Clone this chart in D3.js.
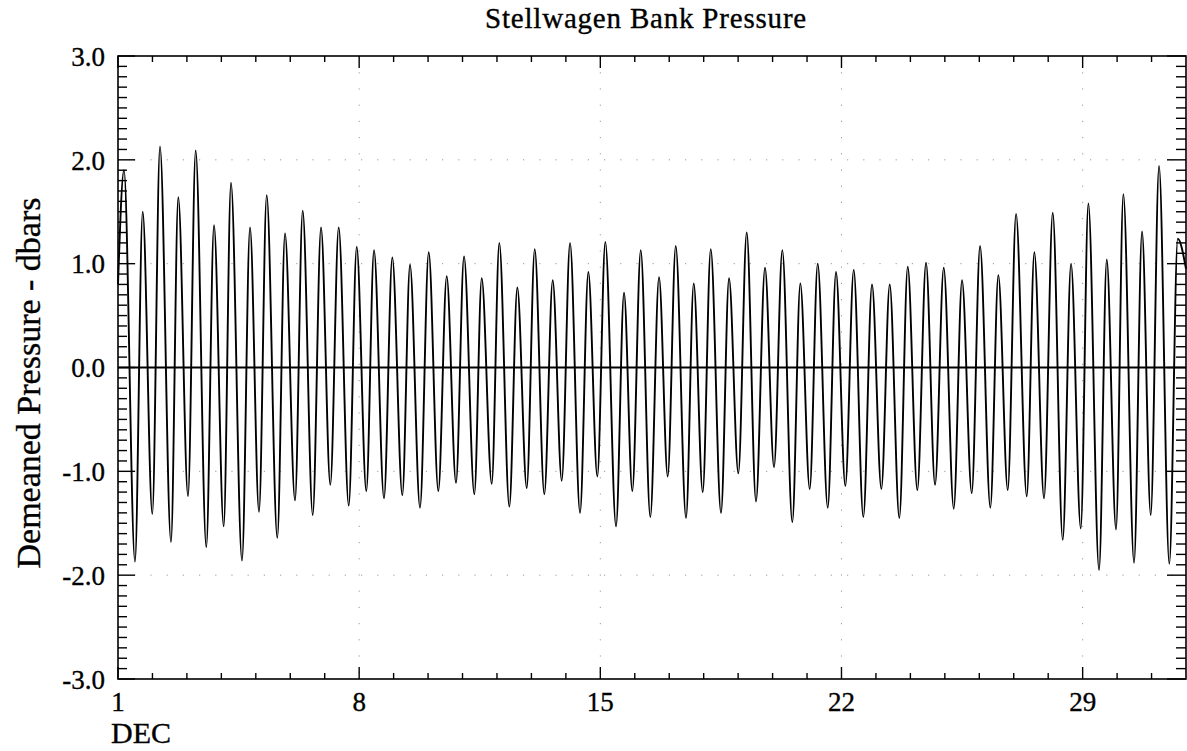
<!DOCTYPE html>
<html>
<head>
<meta charset="utf-8">
<script src="https://cdn.jsdelivr.net/npm/d3@7"></script>
<style>
  html, body { margin: 0; padding: 0; background: #fff; }
  #graph svg { display: block; }
  text { font-family: "Liberation Serif", "DejaVu Serif", serif; fill: #000; stroke: #000; stroke-width: 0.35; }
</style>
</head>
<body>
<div id="graph"></div>
<script>
// values (day of December, demeaned pressure in dbars)
const peakDays = [1.174, 1.717, 2.219, 2.750, 3.255, 3.787, 4.280, 4.832, 5.316, 5.848,
    6.361, 6.893, 7.406, 7.929, 8.431, 8.962, 9.476, 10.019, 10.541, 11.044,
    11.557, 12.068, 12.591, 13.096, 13.618, 14.121, 14.652, 15.145, 15.688, 16.173,
    16.704, 17.189, 17.711, 18.205, 18.736, 19.249, 19.780, 20.283, 20.805, 21.310,
    21.841, 22.355, 22.886, 23.400, 23.923, 24.454, 24.968, 25.499, 26.022, 26.553,
    27.067, 27.598, 28.132, 28.663, 29.166, 29.700, 30.182, 30.724, 31.218, 31.761];
const peakValues = [1.90, 1.50, 2.13, 1.64, 2.09, 1.37, 1.78, 1.35, 1.66, 1.29,
    1.51, 1.35, 1.35, 1.16, 1.13, 1.06, 0.99, 1.11, 0.88, 1.07,
    0.86, 1.20, 0.77, 1.14, 0.84, 1.20, 0.92, 1.21, 0.72, 1.13,
    0.87, 1.17, 0.81, 1.14, 0.86, 1.30, 0.96, 1.13, 0.81, 1.00,
    0.92, 0.94, 0.80, 0.80, 0.97, 1.01, 0.96, 0.84, 1.17, 0.89,
    1.48, 1.11, 1.49, 1.00, 1.58, 1.04, 1.67, 1.31, 1.94, 1.24];
const troughDays = [1.493, 1.996, 2.538, 3.032, 3.563, 4.068, 4.599, 5.093, 5.624, 6.138,
    6.652, 7.163, 7.697, 8.208, 8.721, 9.253, 9.766, 10.298, 10.811, 11.343,
    11.848, 12.359, 12.864, 13.375, 13.880, 14.411, 14.913, 15.456, 15.929, 16.451,
    16.956, 17.488, 17.972, 18.503, 19.006, 19.519, 20.042, 20.573, 21.078, 21.601,
    22.112, 22.634, 23.157, 23.679, 24.202, 24.716, 25.258, 25.781, 26.321, 26.826,
    27.377, 27.879, 28.422, 28.945, 29.476, 29.969, 30.492, 30.976, 31.516];
const troughValues = [-1.87, -1.41, -1.68, -1.24, -1.73, -1.53, -1.86, -1.39, -1.64, -1.28,
    -1.42, -1.13, -1.33, -1.19, -1.26, -1.23, -1.35, -1.19, -1.11, -1.22,
    -1.12, -1.34, -1.16, -1.22, -1.09, -1.40, -1.05, -1.53, -1.19, -1.44,
    -1.05, -1.45, -1.20, -1.40, -1.02, -1.29, -0.96, -1.49, -1.17, -1.35,
    -1.14, -1.44, -1.17, -1.45, -1.18, -1.13, -1.36, -1.21, -1.35, -1.18,
    -1.24, -1.26, -1.66, -1.55, -1.95, -1.56, -1.88, -1.42, -1.89];
const edgeDays = [1.0, 32.0];
const edgeValues = [0.80, 0.95];

const yTickValues = [3, 2, 1, 0, -1, -2, -3];
const yTickLabels = ["3.0", "2.0", "1.0", "0.0", "-1.0", "-2.0", "-3.0"];
const xTickDays = [1, 8, 15, 22, 29];
const xTickLabels = ["1", "8", "15", "22", "29"];
const gridValues = [2, 1, -1, -2];

const width = 1187, height = 751;
const plot = { left: 118, right: 1186, top: 56, bottom: 679 };

const createSVG = () => {
    return d3.select("#graph")
        .append("svg")
        .attr("width", width)
        .attr("height", height);
};

const createScales = () => {
    const xScale = d3.scaleLinear()
        .domain([1, 32])
        .range([plot.left, plot.right]);
    const yScale = d3.scaleLinear()
        .domain([-3, 3])
        .range([plot.bottom, plot.top]);
    return [xScale, yScale];
};

const getSeries = () => {
    const pts = [];
    peakDays.forEach((d, i) => pts.push({ day: d, value: peakValues[i] }));
    troughDays.forEach((d, i) => pts.push({ day: d, value: troughValues[i] }));
    edgeDays.forEach((d, i) => pts.push({ day: d, value: edgeValues[i] }));
    return pts.sort((a, b) => a.day - b.day);
};

const drawGrid = (svg, [xScale, yScale]) => {
    const grid = svg.append("g").attr("class", "grid")
        .attr("stroke", "#999")
        .attr("stroke-width", 1)
        .attr("stroke-dasharray", "1.2,15");
    grid.selectAll("line.h")
        .data(gridValues)
        .enter().append("line")
        .attr("class", "h")
        .attr("x1", plot.left).attr("x2", plot.right)
        .attr("y1", d => yScale(d)).attr("y2", d => yScale(d));
    grid.selectAll("line.v")
        .data(xTickDays.slice(1))
        .enter().append("line")
        .attr("class", "v")
        .attr("x1", d => xScale(d)).attr("x2", d => xScale(d))
        .attr("y1", plot.top).attr("y2", plot.bottom);
};

const isWhole = (d) => Math.abs(d - Math.round(d)) < 1e-6;

const drawAxes = (svg, [xScale, yScale]) => {
    const minorY = d3.range(-30, 31).map(d => d / 10);
    const minorX = d3.range(1, 32);

    // left and right: inward ticks every 0.1, longer at whole units
    svg.append("g").selectAll("line")
        .data(minorY)
        .enter().append("line")
        .attr("x1", plot.left)
        .attr("x2", d => plot.left + (isWhole(d) ? 17 : 9))
        .attr("y1", d => yScale(d)).attr("y2", d => yScale(d))
        .attr("stroke", "#000").attr("stroke-width", 1.4);

    svg.append("g").selectAll("line")
        .data(minorY)
        .enter().append("line")
        .attr("x1", plot.right)
        .attr("x2", d => plot.right - (isWhole(d) ? 19 : 10))
        .attr("y1", d => yScale(d)).attr("y2", d => yScale(d))
        .attr("stroke", "#000").attr("stroke-width", 1.4);

    // bottom and top: a tick per day, longer at labelled days
    svg.append("g").selectAll("line")
        .data(minorX)
        .enter().append("line")
        .attr("x1", d => xScale(d)).attr("x2", d => xScale(d))
        .attr("y1", plot.bottom)
        .attr("y2", d => plot.bottom - (xTickDays.includes(d) ? 12 : 6))
        .attr("stroke", "#000").attr("stroke-width", 1.4);

    svg.append("g").selectAll("line")
        .data(minorX)
        .enter().append("line")
        .attr("x1", d => xScale(d)).attr("x2", d => xScale(d))
        .attr("y1", plot.top)
        .attr("y2", d => plot.top + (xTickDays.includes(d) ? 12 : 6))
        .attr("stroke", "#000").attr("stroke-width", 1.4);

    // frame
    svg.append("rect")
        .attr("x", plot.left).attr("y", plot.top)
        .attr("width", plot.right - plot.left)
        .attr("height", plot.bottom - plot.top)
        .attr("fill", "none")
        .attr("stroke", "#000").attr("stroke-width", 1.6);

    // labels
    svg.append("g").selectAll("text")
        .data(yTickValues)
        .enter().append("text")
        .attr("x", 105)
        .attr("y", d => yScale(d))
        .attr("dy", "0.36em")
        .attr("text-anchor", "end")
        .attr("font-size", 27)
        .text((d, i) => yTickLabels[i]);

    svg.append("g").selectAll("text")
        .data(xTickDays)
        .enter().append("text")
        .attr("x", d => xScale(d))
        .attr("y", 711)
        .attr("text-anchor", "middle")
        .attr("font-size", 27)
        .text((d, i) => xTickLabels[i]);

    svg.append("text")
        .attr("x", 111)
        .attr("y", 743)
        .attr("font-size", 30)
        .text("DEC");

    svg.append("text")
        .attr("transform", "translate(40,383) rotate(-90)")
        .attr("text-anchor", "middle")
        .attr("font-size", 34)
        .text("Demeaned Pressure - dbars");

    svg.append("text")
        .attr("x", 646)
        .attr("y", 28)
        .attr("text-anchor", "middle")
        .attr("font-size", 29)
        .attr("letter-spacing", 0.8)
        .text("Stellwagen Bank Pressure");
};

const drawZeroLine = (svg, [xScale, yScale]) => {
    svg.append("line")
        .attr("x1", plot.left).attr("x2", plot.right)
        .attr("y1", yScale(0)).attr("y2", yScale(0))
        .attr("stroke", "#000").attr("stroke-width", 1.8);
};

const drawSeries = (svg, data, [xScale, yScale]) => {
    const line = d3.line()
        .x(d => xScale(d.day))
        .y(d => yScale(d.value))
        .curve(d3.curveMonotoneX);
    svg.append("path")
        .datum(data)
        .attr("d", line)
        .attr("fill", "none")
        .attr("stroke", "#000")
        .attr("stroke-width", 1.9)
        .attr("stroke-linejoin", "round");
};

const createGraph = () => {
    const svg = createSVG();
    const scales = createScales();
    drawGrid(svg, scales);
    drawZeroLine(svg, scales);
    drawSeries(svg, getSeries(), scales);
    drawAxes(svg, scales);
};

createGraph();
</script>
</body>
</html>
